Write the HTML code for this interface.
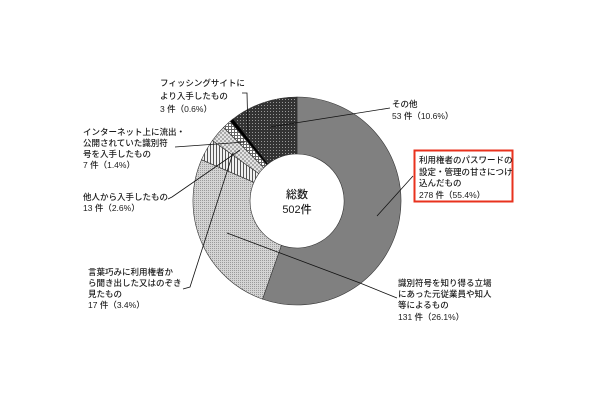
<!DOCTYPE html>
<html><head><meta charset="utf-8"><style>
body{margin:0;background:#fff}
svg{display:block}
text{font-family:"Liberation Sans","Noto Sans CJK JP",sans-serif;font-size:8.5px;fill:#1a1a1a;font-weight:500}
</style></head><body>
<svg width="600" height="400" viewBox="0 0 600 400" xmlns="http://www.w3.org/2000/svg">
<defs>
<pattern id="dot" width="2" height="2" patternUnits="userSpaceOnUse"><rect width="2" height="2" fill="#d4d4d4"/><rect width="1" height="1" fill="#9a9a9a"/></pattern>
<pattern id="vs" width="3" height="3" patternUnits="userSpaceOnUse"><rect width="3" height="3" fill="#f0f0f0"/><rect width="1" height="3" fill="#555"/></pattern>
<pattern id="chk" width="4" height="4" patternUnits="userSpaceOnUse"><rect width="4" height="4" fill="#e4e4e4"/><rect width="2" height="2" fill="#aaa"/><rect x="2" y="2" width="2" height="2" fill="#aaa"/></pattern>
<pattern id="grid" width="3" height="3" patternUnits="userSpaceOnUse"><rect width="3" height="3" fill="#fff"/><rect width="3" height="1" fill="#666"/><rect width="1" height="3" fill="#666"/></pattern>
<pattern id="dk" width="3" height="3" patternUnits="userSpaceOnUse"><rect width="3" height="3" fill="#333"/><rect width="1" height="1" fill="#999"/></pattern>
</defs>
<g stroke="#333" stroke-width="0.6">
<path d="M297,97 A104,104 0 1 1 262.5,299.1 L281.4,245.3 A47,47 0 1 0 297,154 Z" fill="#808080"/>
<path d="M262.5,299.1 A104,104 0 0 1 201.5,159.7 L253.9,182.3 A47,47 0 0 0 281.4,245.3 Z" fill="url(#dot)"/>
<path d="M201.5,159.7 A104,104 0 0 1 212.4,140.5 L258.8,173.6 A47,47 0 0 0 253.9,182.3 Z" fill="url(#vs)"/>
<path d="M212.4,140.5 A104,104 0 0 1 223.5,127.5 L263.8,167.8 A47,47 0 0 0 258.8,173.6 Z" fill="url(#chk)"/>
<path d="M223.5,127.5 A104,104 0 0 1 230.1,121.3 L266.8,165 A47,47 0 0 0 263.8,167.8 Z" fill="url(#grid)"/>
<path d="M230.1,121.3 A104,104 0 0 1 233.3,118.8 L268.2,163.9 A47,47 0 0 0 266.8,165 Z" fill="#000"/>
<path d="M233.3,118.8 A104,104 0 0 1 297,97 L297,154 A47,47 0 0 0 268.2,163.9 Z" fill="url(#dk)"/>
</g>
<g stroke="#111" stroke-width="0.8" fill="none">
<polyline points="242,93 247,93 248,133"/>
<polyline points="175,147 245,142"/>
<polyline points="168,199 172,197 240,150"/>
<polyline points="183,289 190,287 233,153"/>
<polyline points="390,108 270,127"/>
<polyline points="413,176 377,216"/>
<polyline points="227,233 360,283 397,298"/>
</g>
<text x="297" y="198" text-anchor="middle" style="font-size:11px">総数</text>
<text x="297" y="213" text-anchor="middle" style="font-size:11px">502件</text>
<text x="160" y="86">フィッシングサイトに</text>
<text x="160" y="99">より入手したもの</text>
<text x="160" y="112">3 件（0.6%）</text>
<text x="83" y="135">インターネット上に流出・</text>
<text x="83" y="146">公開されていた識別符</text>
<text x="83" y="157">号を入手したもの</text>
<text x="83" y="168">7 件（1.4%）</text>
<text x="83" y="200">他人から入手したもの</text>
<text x="83" y="211">13 件（2.6%）</text>
<text x="88" y="275">言葉巧みに利用権者か</text>
<text x="88" y="286">ら聞き出した又はのぞき</text>
<text x="88" y="297">見たもの</text>
<text x="88" y="308">17 件（3.4%）</text>
<text x="392" y="107">その他</text>
<text x="392" y="119">53 件（10.6%）</text>
<rect x="414.5" y="150.5" width="98" height="51" fill="none" stroke="#e8321e" stroke-width="2"/>
<text x="419" y="163">利用権者のパスワードの</text>
<text x="419" y="175">設定・管理の甘さにつけ</text>
<text x="419" y="186">込んだもの</text>
<text x="419" y="198">278 件（55.4%）</text>
<text x="398" y="286">識別符号を知り得る立場</text>
<text x="398" y="297">にあった元従業員や知人</text>
<text x="398" y="308">等によるもの</text>
<text x="398" y="320">131 件（26.1%）</text>
</svg>
</body></html>
